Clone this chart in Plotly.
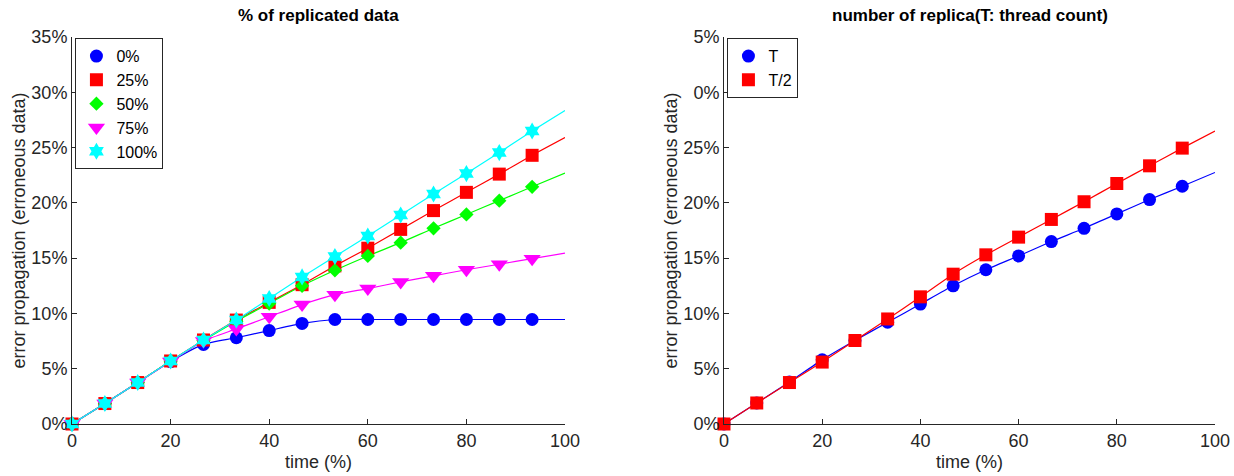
import plotly.graph_objects as go

# time (%) positions of samples; last point (100) has line only, no marker
time_pts = [0, 6.67, 13.33, 20, 26.67, 33.33, 40, 46.67, 53.33, 60, 66.67, 73.33, 80, 86.67, 93.33, 100]

# left chart: % of replicated data
rep_labels = ["0%", "25%", "50%", "75%", "100%"]
rep_0 = [0, 1.85, 3.75, 5.65, 7.2, 7.8, 8.45, 9.1, 9.45, 9.45, 9.45, 9.45, 9.45, 9.45, 9.45, 9.45]
rep_25 = [0, 1.85, 3.75, 5.7, 7.6, 9.4, 11.0, 12.6, 14.3, 15.9, 17.6, 19.3, 20.95, 22.6, 24.3, 25.9]
rep_50 = [0, 1.85, 3.75, 5.7, 7.55, 9.3, 10.9, 12.5, 13.9, 15.2, 16.4, 17.7, 18.95, 20.2, 21.45, 22.7]
rep_75 = [0, 1.85, 3.75, 5.65, 7.5, 8.6, 9.7, 10.8, 11.7, 12.25, 12.85, 13.4, 13.95, 14.45, 14.95, 15.45]
rep_100 = [0, 1.85, 3.75, 5.7, 7.6, 9.4, 11.35, 13.3, 15.15, 17.0, 18.9, 20.8, 22.65, 24.55, 26.5, 28.35]

# right chart: number of replica
thr_labels = ["T", "T/2"]
thr_T = [0, 1.9, 3.8, 5.8, 7.55, 9.2, 10.85, 12.5, 13.95, 15.2, 16.5, 17.7, 19.0, 20.3, 21.5, 22.75]
thr_T2 = [0, 1.9, 3.75, 5.6, 7.55, 9.5, 11.5, 13.55, 15.3, 16.9, 18.5, 20.1, 21.75, 23.35, 24.95, 26.5]

y_tickvals = [0, 5, 10, 15, 20, 25, 30, 35]
left_ticktext = ["0%", "5%", "10%", "15%", "20%", "25%", "30%", "35%"]
right_ticktext = ["0%", "5%", "10%", "15%", "20%", "25%", "0%", "5%"]
x_tickvals = [0, 20, 40, 60, 80, 100]

FONT = "Liberation Sans, Arial, Helvetica, sans-serif"
AX = "#262626"

fig = go.Figure()

left_series = [rep_0, rep_25, rep_50, rep_75, rep_100]
left_colors = ["#0000FF", "#FF0000", "#00FF00", "#FF00FF", "#00FFFF"]
left_symbols = ["circle", "square", "diamond", "triangle-down", "hexagram"]
left_sizes = [13, 13, 11, 15, 13]

for vals, col in zip(left_series, left_colors):
    fig.add_trace(go.Scatter(x=time_pts, y=vals, mode="lines", line=dict(color=col, width=1.2, shape="spline", smoothing=0.6),
                             showlegend=False, xaxis="x", yaxis="y", hoverinfo="skip"))
for vals, col, sym, sz, lab in zip(left_series, left_colors, left_symbols, left_sizes, rep_labels):
    fig.add_trace(go.Scatter(x=time_pts[:-1], y=vals[:-1], mode="markers", name=lab,
                             marker=dict(color=col, symbol=sym, size=sz, line=dict(width=0)),
                             cliponaxis=False, xaxis="x", yaxis="y", legend="legend"))

right_series = [thr_T, thr_T2]
right_colors = ["#0000FF", "#FF0000"]
right_symbols = ["circle", "square"]
for vals, col in zip(right_series, right_colors):
    fig.add_trace(go.Scatter(x=time_pts, y=vals, mode="lines", line=dict(color=col, width=1.2, shape="spline", smoothing=0.6),
                             showlegend=False, xaxis="x2", yaxis="y2", hoverinfo="skip"))
for vals, col, sym, lab in zip(right_series, right_colors, right_symbols, thr_labels):
    fig.add_trace(go.Scatter(x=time_pts[:-1], y=vals[:-1], mode="markers", name=lab,
                             marker=dict(color=col, symbol=sym, size=13, line=dict(width=0)),
                             cliponaxis=False, xaxis="x2", yaxis="y2", legend="legend2"))

ML, MR, MT, MB = 72, 19, 37, 52
W, H = 1234, 476
pw = W - ML - MR
l_end = (565 - ML) / pw
r_start = (724 - ML) / pw

common_x = dict(range=[0, 100], tickvals=x_tickvals, ticks="inside", ticklen=5, tickcolor=AX,
                showline=True, linecolor=AX, linewidth=1, showgrid=False, zeroline=False,
                tickfont=dict(family=FONT, size=18, color=AX), automargin=False)
common_y = dict(range=[0, 35], tickvals=y_tickvals, ticks="inside", ticklen=5, tickcolor=AX,
                showline=True, linecolor=AX, linewidth=1, showgrid=False, zeroline=False,
                tickfont=dict(family=FONT, size=18, color=AX), automargin=False,
                title=dict(text="error propagation (erroneous data)", font=dict(family=FONT, size=18, color=AX)))

leg_common = dict(y=0.997, xanchor="left", yanchor="top", bgcolor="white",
                  bordercolor=AX, borderwidth=1, font=dict(family=FONT, size=16, color="black"),
                  tracegroupgap=0, itemwidth=30)

fig.update_layout(
    template="none",
    width=W, height=H,
    margin=dict(l=ML, r=MR, t=MT, b=MB),
    paper_bgcolor="white", plot_bgcolor="white",
    xaxis=dict(domain=[0, l_end], anchor="y", **common_x),
    yaxis=dict(domain=[0, 1], anchor="x", ticktext=left_ticktext, **common_y),
    xaxis2=dict(domain=[r_start, 1], anchor="y2", **common_x),
    yaxis2=dict(domain=[0, 1], anchor="x2", ticktext=right_ticktext, **common_y),
    legend=dict(x=0.003, **leg_common),
    legend2=dict(x=r_start + 0.003, **leg_common),
    annotations=[
        dict(text="<b>% of replicated data</b>", x=l_end / 2, y=1, xref="paper", yref="paper",
             xanchor="center", yanchor="bottom", yshift=10, showarrow=False,
             font=dict(family=FONT, size=17, color="black")),
        dict(text="<b>number of replica(T: thread count)</b>", x=(r_start + 1) / 2, y=1, xref="paper", yref="paper",
             xanchor="center", yanchor="bottom", yshift=10, showarrow=False,
             font=dict(family=FONT, size=17, color="black")),
        dict(text="time (%)", x=l_end / 2, y=0, xref="paper", yref="paper",
             xanchor="center", yanchor="middle", yshift=-38, showarrow=False,
             font=dict(family=FONT, size=18, color=AX)),
        dict(text="time (%)", x=(r_start + 1) / 2, y=0, xref="paper", yref="paper",
             xanchor="center", yanchor="middle", yshift=-38, showarrow=False,
             font=dict(family=FONT, size=18, color=AX)),
    ],
)

fig.write_html("out.html")
